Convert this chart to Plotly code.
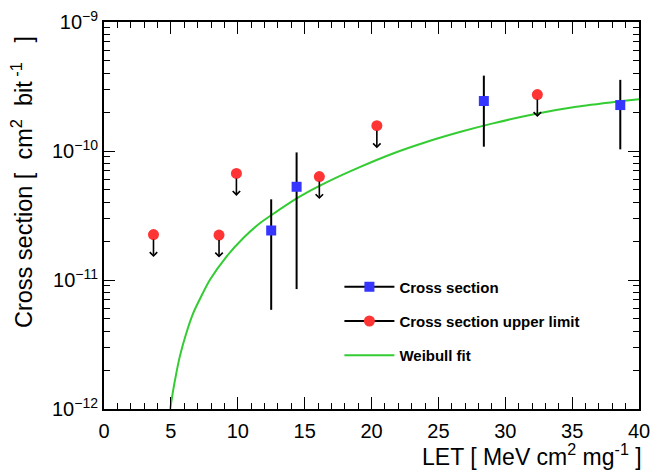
import math
import plotly.graph_objects as go

# Measured cross section (LET, value, error bar top, error bar bottom)
cs_let = [12.5, 14.4, 28.4, 38.6]
cs_val = [2.42e-11, 5.28e-11, 2.44e-10, 2.27e-10]
cs_hi = [4.22e-11, 9.75e-11, 3.84e-10, 3.56e-10]
cs_lo = [5.87e-12, 8.5e-12, 1.08e-10, 1.03e-10]

# Upper limits
ul_let = [3.7, 8.6, 9.9, 16.1, 20.4, 32.4]
ul_val = [2.25e-11, 2.23e-11, 6.7e-11, 6.33e-11, 1.57e-10, 2.74e-10]

# Weibull fit curve
fit_let = [4.95, 5.1, 5.3, 5.67, 6.1, 6.67, 7.3, 7.91, 9.16, 10.4, 11.65, 12.9,
           14.14, 15.39, 16.63, 19.12, 21.61, 24.1, 26.6, 29.08, 32.32, 35.31,
           38.55, 40.0]
fit_log = [-12.0, -11.90, -11.78, -11.592, -11.43, -11.257, -11.12, -11.0,
           -10.818, -10.676, -10.560, -10.470, -10.385, -10.310, -10.243,
           -10.125, -10.019, -9.930, -9.853, -9.786, -9.711, -9.657, -9.615,
           -9.598]
fit_val = [10 ** v for v in fit_log]

# y-axis tick labels
y_tickvals = [1e-12, 1e-11, 1e-10, 1e-9]
y_ticktext = ["10<sup>\u221212</sup>", "10<sup>\u221211</sup>",
              "10<sup>\u221210</sup>", "10<sup>\u22129</sup>"]

BLUE = "#3535ff"
RED = "#ff3434"
GREEN = "#33cc33"
FONT = "Liberation Sans, Arial, Helvetica, sans-serif"
NB = "\u00a0"

fig = go.Figure()

fig.add_trace(go.Scatter(x=fit_let, y=fit_val, mode="lines",
                         line=dict(color=GREEN, width=2, shape="spline", smoothing=0.6),
                         showlegend=False, hoverinfo="skip"))

fig.add_trace(go.Scatter(
    x=cs_let, y=cs_val, mode="markers",
    marker=dict(symbol="square", size=10, color=BLUE),
    error_y=dict(type="data", symmetric=False,
                 array=[h - v for h, v in zip(cs_hi, cs_val)],
                 arrayminus=[v - l for v, l in zip(cs_val, cs_lo)],
                 color="black", thickness=2, width=0),
    showlegend=False))

fig.add_trace(go.Scatter(
    x=ul_let, y=ul_val, mode="markers",
    marker=dict(symbol="circle", size=11, color=RED),
    showlegend=False))

# legend entries
fig.add_trace(go.Scatter(x=[None], y=[None], mode="lines+markers",
                         name="Cross section", legendgroup="a",
                         line=dict(color="black", width=2),
                         marker=dict(symbol="square", size=10, color=BLUE)))
fig.add_trace(go.Scatter(x=[None], y=[None], mode="lines+markers",
                         name="Cross section upper limit", legendgroup="b",
                         line=dict(color="black", width=2),
                         marker=dict(symbol="circle", size=11, color=RED)))
fig.add_trace(go.Scatter(x=[None], y=[None], mode="lines",
                         name="Weibull fit", legendgroup="c",
                         line=dict(color=GREEN, width=2)))

annotations = []
for xv, yv in zip(ul_let, ul_val):
    annotations.append(dict(
        x=xv, y=math.log10(yv), xref="x", yref="y", text="",
        showarrow=True, ax=0, ay=24, axref="pixel", ayref="pixel",
        arrowside="start", startarrowhead=4, startarrowsize=0.9,
        arrowwidth=1.6, arrowcolor="black", standoff=5, startstandoff=0))

annotations.append(dict(
    text="LET [ MeV cm<sup>2</sup> mg<sup>-1</sup> ]",
    xref="paper", yref="paper", x=1.009, y=-0.12,
    xanchor="right", yanchor="middle", showarrow=False,
    font=dict(family=FONT, size=23, color="black")))
annotations.append(dict(
    text=(f"Cross section{NB}[{NB}{NB}cm<sup>2</sup>{NB}{NB}bit"
          f"<sup>{NB}-1</sup>{NB}{NB}{NB}]"),
    xref="paper", yref="paper", x=-0.152, y=0.968,
    xanchor="center", yanchor="top", textangle=-90, showarrow=False,
    font=dict(family=FONT, size=23.5, color="black")))

minor_vals = [k * 10.0 ** e for e in (-12, -11, -10) for k in range(2, 10)]

fig.update_layout(
    width=653, height=472,
    margin=dict(l=104, r=14, t=22, b=63),
    paper_bgcolor="white", plot_bgcolor="white",
    font=dict(family=FONT, size=20, color="black"),
    annotations=annotations,
    legend=dict(x=0.44, y=0.358, xanchor="left", yanchor="top",
                bgcolor="rgba(0,0,0,0)", traceorder="grouped",
                tracegroupgap=11.8, itemwidth=50,
                font=dict(family=FONT, size=15, color="black", weight="bold")),
)

fig.update_xaxes(
    range=[0, 40], dtick=5, tick0=0, showgrid=False, zeroline=False,
    showline=True, linecolor="black", linewidth=2, mirror="ticks",
    ticks="inside", ticklen=12, tickwidth=1, tickcolor="black",
    tickfont=dict(family=FONT, size=20), ticklabelstandoff=3,
    automargin=False,
    minor=dict(dtick=1, ticks="inside", ticklen=6, tickcolor="black", showgrid=False),
)
fig.update_yaxes(
    type="log", range=[-12, -9], tickvals=y_tickvals, ticktext=y_ticktext,
    showgrid=False, zeroline=False,
    showline=True, linecolor="black", linewidth=2, mirror="ticks",
    ticks="inside", ticklen=11, tickwidth=1, tickcolor="black",
    tickfont=dict(family=FONT, size=20), automargin=False,
    minor=dict(tickvals=minor_vals, ticks="inside", ticklen=6,
               tickcolor="black", showgrid=False),
)

fig.write_html("out.html",
               config={"displayModeBar": False},
               post_script="document.body.style.margin='0px';"
                           "document.body.style.overflow='hidden';")
